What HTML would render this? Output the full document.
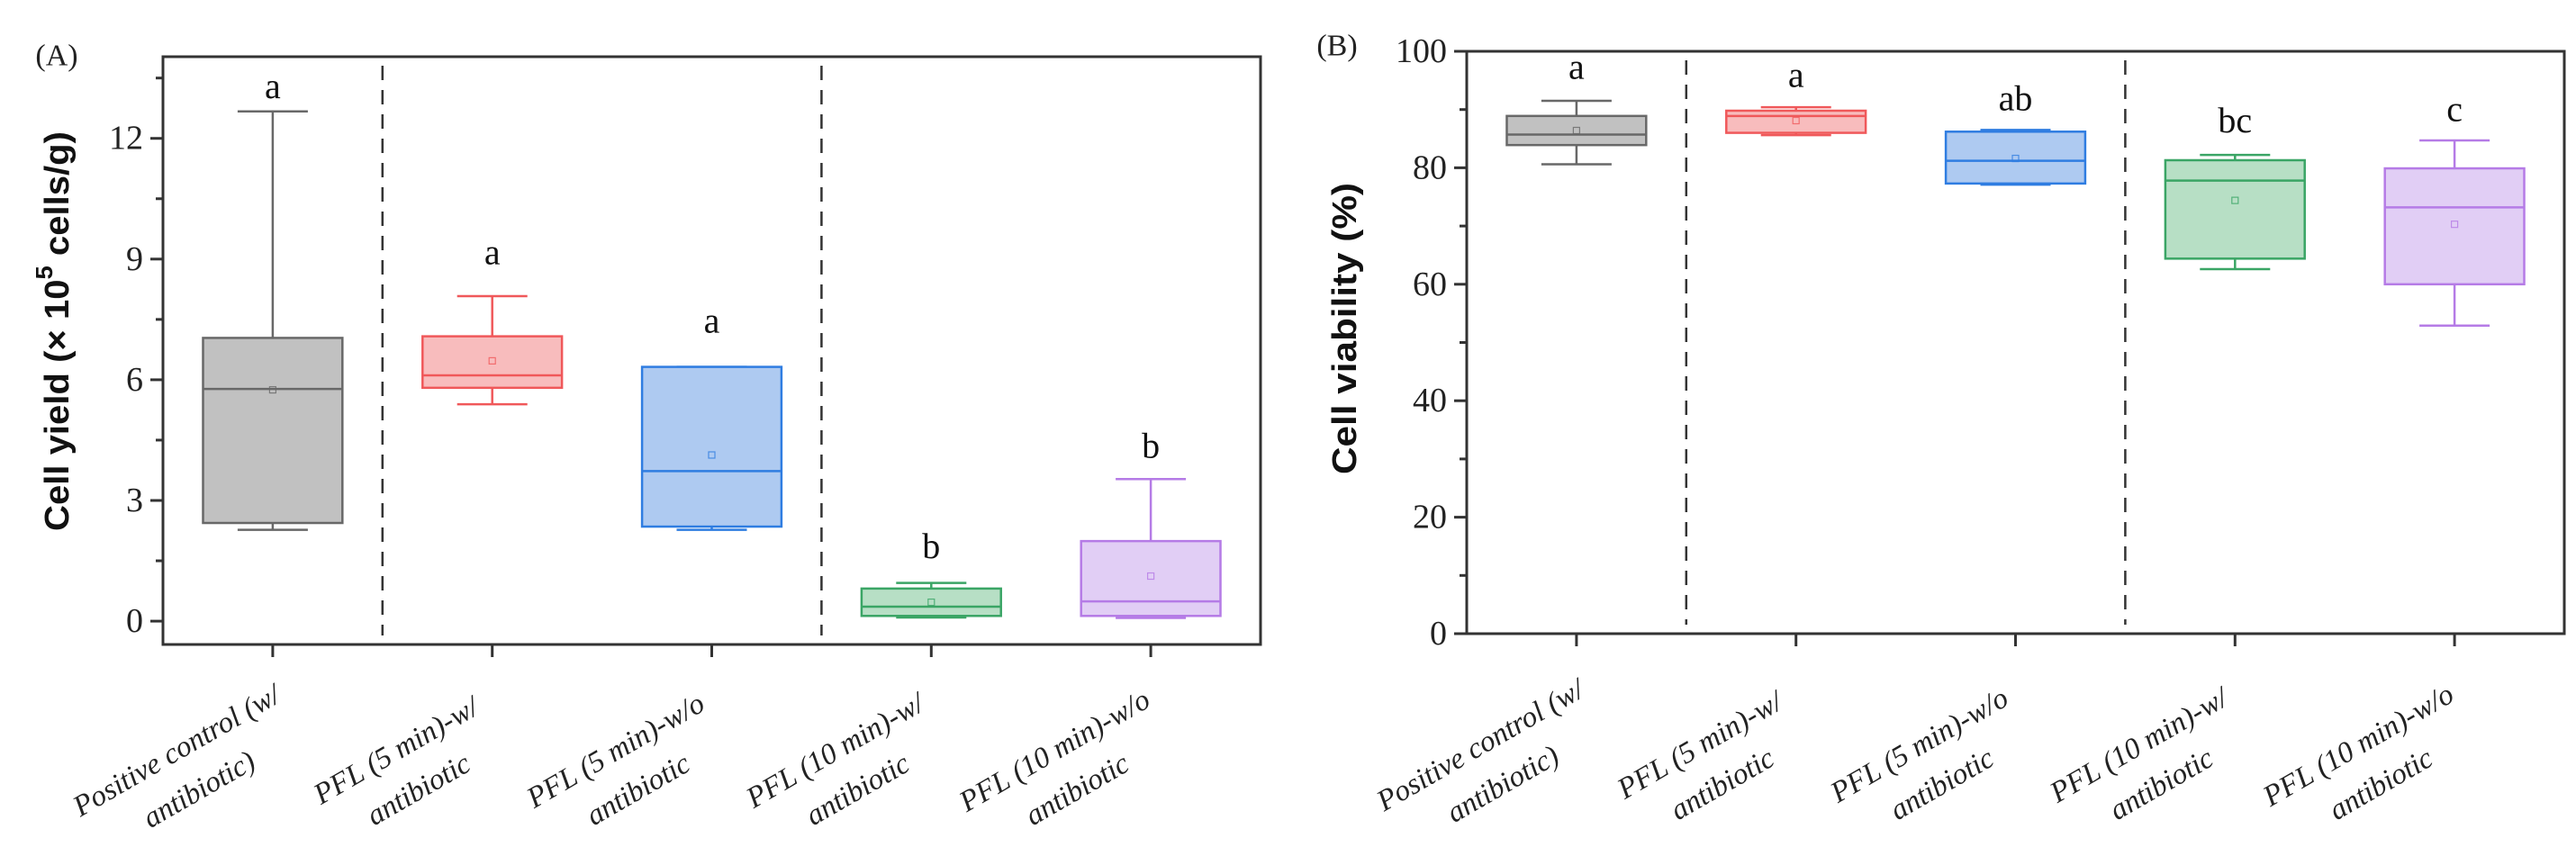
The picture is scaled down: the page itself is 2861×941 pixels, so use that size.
<!DOCTYPE html>
<html><head><meta charset="utf-8"><style>
html,body{margin:0;padding:0;background:#fff;}
svg{display:block;}
</style></head><body>
<svg id="fig" width="2861" height="941" viewBox="0 0 2861 941" xmlns="http://www.w3.org/2000/svg"></svg>
<script>
// ---- Data ----
const categories = [["Positive control (w/","antibiotic)"],["PFL (5 min)-w/","antibiotic"],["PFL (5 min)-w/o","antibiotic"],["PFL (10 min)-w/","antibiotic"],["PFL (10 min)-w/o","antibiotic"]];
const yieldWhiskerLow = [2.27, 5.39, 2.27, 0.09, 0.08];
const yieldQ1 = [2.44, 5.80, 2.35, 0.13, 0.13];
const yieldMedian = [5.77, 6.11, 3.73, 0.36, 0.49];
const yieldMean = [5.75, 6.47, 4.13, 0.47, 1.12];
const yieldQ3 = [7.04, 7.08, 6.32, 0.81, 1.99];
const yieldWhiskerHigh = [12.67, 8.08, 6.32, 0.95, 3.53];
const yieldLetters = ["a","a","a","b","b"];
const yieldLetterPos = [13.3, 9.17, 7.47, 1.87, 4.36];
const yieldTicks = [0, 3, 6, 9, 12];

const viaWhiskerLow = [80.6, 85.6, 77.1, 62.6, 52.9];
const viaQ1 = [83.9, 86.0, 77.3, 64.4, 60.0];
const viaMedian = [85.7, 88.9, 81.2, 77.8, 73.2];
const viaMean = [86.4, 88.1, 81.6, 74.4, 70.3];
const viaQ3 = [88.9, 89.8, 86.2, 81.3, 79.9];
const viaWhiskerHigh = [91.5, 90.4, 86.5, 82.2, 84.7];
const viaLetters = ["a","a","ab","bc","c"];
const viaLetterPos = [97.4, 96.0, 92.0, 88.2, 90.1];
const viaTicks = [0, 20, 40, 60, 80, 100];

const strokes = ["#686868","#f0585a","#2f7de1","#3aa565","#b57be6"];
const fills = ["#c1c1c1","#f8bcbd","#aecaf1","#b7dfc5","#e1cef5"];

const NS = "http://www.w3.org/2000/svg";
const svg = document.getElementById('fig');
function mk(tag, attrs, parent){ const e=document.createElementNS(NS,tag); for(const k in attrs) e.setAttribute(k,attrs[k]); (parent||svg).appendChild(e); return e; }

function panel(cfg){
  const g = mk('g',{});
  
  
  const {left,right,top,bottom,ymin,ymax} = cfg;
  const y = v => bottom - (v - ymin)/(ymax - ymin)*(bottom-top);
  const step = (right-left)/categories.length;
  const x = i => left + step*(i+0.5);
  const bw = step*0.635, cw = step*0.32;
  // dashed separators (between group 1|2 and 3|4)
  [1,3].forEach((p,k)=>{
    const xx = left + step*p;
    const l = mk('line',{x1:xx,x2:xx,y1:top+10,y2:bottom-10,stroke:'#333','stroke-width':2.5,'stroke-dasharray':'16,11'},g);
    
    
  });
  // boxes
  for(let i=0;i<categories.length;i++){
    const bg = mk('g',{},g);
    
    
    const cx = x(i), s = strokes[i], f = fills[i];
    mk('line',{x1:cx,x2:cx,y1:y(cfg.hi[i]),y2:y(cfg.q3[i]),stroke:s,'stroke-width':2.5},bg);
    mk('line',{x1:cx,x2:cx,y1:y(cfg.q1[i]),y2:y(cfg.lo[i]),stroke:s,'stroke-width':2.5},bg);
    mk('line',{x1:cx-cw/2,x2:cx+cw/2,y1:y(cfg.hi[i]),y2:y(cfg.hi[i]),stroke:s,'stroke-width':2.5},bg);
    mk('line',{x1:cx-cw/2,x2:cx+cw/2,y1:y(cfg.lo[i]),y2:y(cfg.lo[i]),stroke:s,'stroke-width':2.5},bg);
    mk('rect',{x:cx-bw/2,y:y(cfg.q3[i]),width:bw,height:Math.max(1,y(cfg.q1[i])-y(cfg.q3[i])),fill:f,stroke:s,'stroke-width':2.5},bg);
    mk('line',{x1:cx-bw/2,x2:cx+bw/2,y1:y(cfg.med[i]),y2:y(cfg.med[i]),stroke:s,'stroke-width':2.5},bg);
    mk('rect',{x:cx-3.5,y:y(cfg.mean[i])-3.5,width:7,height:7,fill:'none',stroke:s,'stroke-width':1.2,opacity:0.8},bg);
    const t = mk('text',{x:cx,y:y(cfg.letterPos[i]),'text-anchor':'middle','dominant-baseline':'central','font-family':'"Liberation Serif", serif','font-size':40,fill:'#111'},g);
    t.textContent = cfg.letters[i];
    
    
    // x tick
    mk('line',{x1:cx,x2:cx,y1:bottom,y2:bottom+14,stroke:'#333','stroke-width':3},g);
    const lg = mk('g',{transform:`translate(${cx-94},${cfg.labelY}) rotate(-30)`},g);
    
    
    categories[i].forEach((ln,j)=>{
      const tt = mk('text',{x:0,y:(j===0?-25:25),'text-anchor':'middle','dominant-baseline':'central','font-family':'"Liberation Serif", serif','font-style':'italic','font-size':33,fill:'#222'},lg);
      tt.textContent = ln;
    });
  }
  // y ticks
  cfg.ticks.forEach((v,k)=>{
    mk('line',{x1:left-14,x2:left,y1:y(v),y2:y(v),stroke:'#333','stroke-width':3},g);
    const t = mk('text',{x:left-22,y:y(v),'text-anchor':'end','dominant-baseline':'central','font-family':'"Liberation Serif", serif','font-size':38,fill:'#222'},g);
    t.textContent = v;
    
    
    const m = v + (cfg.ticks[1]-cfg.ticks[0])/2;
    if(m < ymax) mk('line',{x1:left-8,x2:left,y1:y(m),y2:y(m),stroke:'#333','stroke-width':3},g);
  });
  // frame
  const fr = mk('rect',{x:left,y:top,width:right-left,height:bottom-top,fill:'none',stroke:'#333','stroke-width':3},g);
  
  
  // y title
  const tt = mk('text',{transform:`translate(${cfg.titleX},${cfg.titleY}) rotate(-90)`,'text-anchor':'middle','dominant-baseline':'central','font-family':'"Liberation Sans", sans-serif','font-weight':'bold','font-size':38,fill:'#111',textLength:cfg.titleLen,lengthAdjust:'spacingAndGlyphs'},g);
  
  
  if(cfg.sup){
    tt.appendChild(document.createTextNode('Cell yield (× 10'));
    const sp = mk('tspan',{'baseline-shift':'super','font-size':26},tt); sp.textContent='5';
    tt.appendChild(document.createTextNode(' cells/g)'));
  } else tt.textContent = cfg.title;
  const pl = mk('text',{x:cfg.plx,y:cfg.ply,'text-anchor':'middle','dominant-baseline':'central','font-family':'"Liberation Serif", serif','font-size':34,fill:'#222'},g);
  pl.textContent = cfg.panelLabel;
  
  
}

panel({name:'panel-a-cell-yield',left:181,right:1400,top:63,bottom:716,ymin:-0.58,ymax:14.03,
  lo:yieldWhiskerLow,q1:yieldQ1,med:yieldMedian,mean:yieldMean,q3:yieldQ3,hi:yieldWhiskerHigh,
  letters:yieldLetters,letterPos:yieldLetterPos,ticks:yieldTicks,labelY:856,
  titleX:64,titleY:368,titleLen:444,sup:true,panelLabel:'(A)',plx:63,ply:62});
panel({name:'panel-b-cell-viability',left:1629,right:2848,top:57,bottom:704,ymin:0,ymax:100,
  lo:viaWhiskerLow,q1:viaQ1,med:viaMedian,mean:viaMean,q3:viaQ3,hi:viaWhiskerHigh,
  letters:viaLetters,letterPos:viaLetterPos,ticks:viaTicks,labelY:850,
  titleX:1494,titleY:365,titleLen:324,title:'Cell viability (%)',panelLabel:'(B)',plx:1485,ply:51});
</script>
</body></html>
